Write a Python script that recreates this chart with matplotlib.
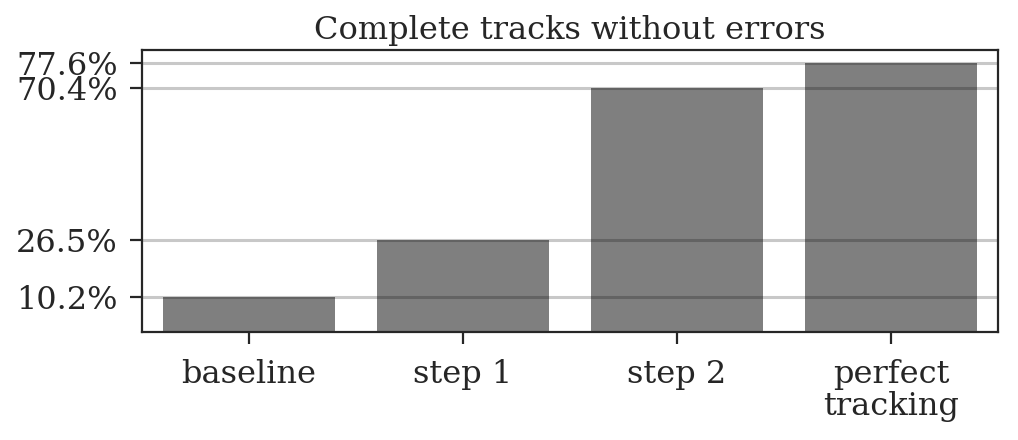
import matplotlib
matplotlib.use("Agg")
import matplotlib.pyplot as plt

categories = ["baseline", "step 1", "step 2", "perfect\ntracking"]
values = [10.2, 26.5, 70.4, 77.6]
tick_labels = ["10.2%", "26.5%", "70.4%", "77.6%"]
title = "Complete tracks without errors"

plt.rcParams['font.family'] = ['DejaVu Serif']
plt.rcParams['text.color'] = '#262626'
plt.rcParams['xtick.color'] = '#262626'
plt.rcParams['ytick.color'] = '#262626'

fig = plt.figure(figsize=(10.18, 4.4), dpi=100)
ax = fig.add_axes([142/1018, 1 - 332/440, (998-142)/1018, (332-50)/440])

x = list(range(len(categories)))
for v in values:
    ax.axhline(v, color='#c8c8c8', lw=2.2, zorder=1)
ax.bar(x, values, width=0.8, color='black', alpha=0.5, zorder=2)

ax.set_xlim(-0.5, 3.5)
ax.set_ylim(0, 77.6 * 1.048)
ax.set_xticks(x)
ax.set_xticklabels(categories, fontsize=23, linespacing=1.05)
ax.set_yticks(values)
ax.set_yticklabels(tick_labels, fontsize=23)
ax.tick_params(axis='x', direction='out', length=8.5, width=1.6, pad=11)
ax.tick_params(axis='y', direction='out', length=8.5, width=1.6, pad=9)
for s in ax.spines.values():
    s.set_color('#262626')
    s.set_linewidth(1.6)
ax.set_title(title, fontsize=23, pad=8)

fig.savefig("out.png", dpi=100)
